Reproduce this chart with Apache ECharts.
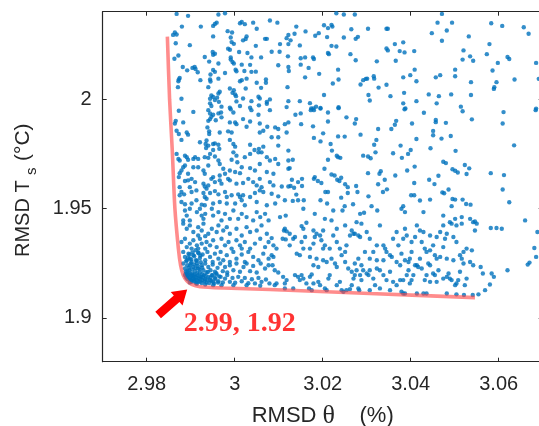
<!DOCTYPE html>
<html>
<head>
<meta charset="utf-8">
<script src="https://cdn.jsdelivr.net/npm/echarts@6/dist/echarts.min.js"></script>
<style>
  html, body { margin: 0; padding: 0; background: #ffffff; }
  #chart { width: 539px; height: 426px; }
</style>
</head>
<body>
<div id="chart"></div>
<script>
// Axis extents and tick values
const xRange = [2.97, 3.07];
const yRange = [1.88, 2.04];
const xTicks = [2.98, 3, 3.02, 3.04, 3.06];
const yTicks = [1.9, 1.95, 2];

// Pareto front through the trial cloud: [RMSD theta (%), RMSD Ts (degC)]
const paretoFront = [
  [2.9847, 2.0286], [2.9852, 2.0000], [2.9858, 1.9771], [2.9864, 1.9503],
  [2.9872, 1.9317], [2.9877, 1.9241], [2.9883, 1.9196], [2.9891, 1.9170],
  [2.9902, 1.9153], [2.9921, 1.9143], [2.9974, 1.9137], [3.0080, 1.9130],
  [3.0307, 1.9112], [3.0546, 1.9093]
];

// Chosen compromise solution and its pointer
const kneePoint = [2.99, 1.92];
const arrowTail = [2.9826, 1.9014];
const arrowHead = [2.9892, 1.9130];

// Trial results, RMSD Ts above ~1.995
const upperTrials = [
  [2.9868,2.0390],[2.9894,2.0381],[2.9963,2.0387],[2.9978,2.0393],[2.9955,2.0344],[2.9959,2.0350],
  [2.9951,2.0335],[3.0012,2.0347],[3.0016,2.0353],[3.0023,2.0343],[3.0042,2.0350],[3.0080,2.0360],
  [3.0097,2.0350],[2.9880,2.0332],[2.9923,2.0332],[2.9984,2.0311],[2.9994,2.0305],[3.0050,2.0322],
  [2.9864,2.0305],[2.9868,2.0296],[2.9860,2.0294],[2.9951,2.0287],[2.9991,2.0282],[3.0027,2.0287],
  [3.0025,2.0275],[3.0019,2.0269],[3.0069,2.0276],[3.0073,2.0276],[3.0122,2.0294],[3.0118,2.0279],
  [2.9993,2.0261],[2.9998,2.0253],[2.9898,2.0247],[2.9866,2.0256],[3.0048,2.0244],[3.0103,2.0252],
  [3.0122,2.0252],[2.9985,2.0231],[2.9989,2.0226],[2.9950,2.0216],[2.9951,2.0203],[2.9955,2.0208],
  [3.0010,2.0216],[3.0029,2.0211],[3.0084,2.0217],[3.0102,2.0217],[2.9872,2.0200],[2.9863,2.0185],
  [2.9932,2.0193],[2.9942,2.0172],[2.9991,2.0191],[2.9991,2.0181],[2.9995,2.0170],[2.9998,2.0163],
  [3.0038,2.0191],[3.0060,2.0191],[2.9963,2.0163],[3.0035,2.0157],[3.0016,2.0158],[3.0099,2.0155],
  [3.0122,2.0147],[2.9882,2.0147],[2.9892,2.0132],[2.9904,2.0143],[2.9909,2.0147],[2.9911,2.0138],
  [2.9916,2.0123],[2.9951,2.0134],[2.9955,2.0125],[2.9945,2.0113],[2.9978,2.0120],[3.0002,2.0135],
  [3.0004,2.0128],[3.0022,2.0129],[3.0038,2.0125],[3.0048,2.0126],[3.0123,2.0129],[2.9875,2.0097],
  [2.9873,2.0090],[2.9872,2.0082],[2.9922,2.0087],[2.9944,2.0090],[2.9945,2.0081],[2.9963,2.0094],
  [3.0012,2.0082],[3.0016,2.0087],[3.0027,2.0094],[3.0071,2.0090],[3.0050,2.0075],[3.0071,2.0075],
  [2.9871,2.0055],[2.9940,2.0055],[2.9989,2.0049],[2.9998,2.0041],[3.0025,2.0049],[3.0060,2.0052],
  [3.0120,2.0055],[2.9966,2.0034],[2.9963,2.0026],[2.9947,2.0017],[2.9951,2.0010],[2.9944,2.0002],
  [2.9955,1.9996],[2.9960,2.0007],[2.9964,1.9988],[2.9995,2.0029],[3.0001,2.0022],[3.0003,2.0014],
  [3.0019,2.0003],[3.0004,1.9990],[3.0054,2.0011],[3.0057,2.0003],[3.0038,1.9991],[3.0073,1.9988],
  [3.0080,1.9999],[2.9879,2.0002],[2.9944,1.9981],[2.9947,1.9969],[2.9970,1.9966],[2.9989,1.9961],
  [3.0012,1.9969],[3.0035,1.9961],[3.0055,1.9972],[3.0073,1.9979],[3.0118,1.9964],[3.0122,1.9991],
  [3.0231,2.0393],[3.0248,2.0387],[3.0273,2.0387],[3.0278,2.0403],[3.0140,2.0332],[3.0136,2.0299],
  [3.0127,2.0269],[3.0161,2.0310],[3.0183,2.0290],[3.0191,2.0302],[3.0203,2.0338],[3.0212,2.0325],
  [3.0220,2.0340],[3.0222,2.0332],[3.0210,2.0284],[3.0248,2.0282],[3.0265,2.0320],[3.0275,2.0276],
  [3.0280,2.0285],[3.0303,2.0322],[3.0345,2.0322],[3.0348,2.0322],[3.0383,2.0260],[3.0364,2.0252],
  [3.0375,2.0220],[3.0386,2.0214],[3.0408,2.0220],[3.0345,2.0232],[3.0348,2.0223],[3.0148,2.0246],
  [3.0220,2.0244],[3.0231,2.0241],[3.0212,2.0211],[3.0214,2.0206],[3.0263,2.0206],[3.0121,2.0196],
  [3.0150,2.0187],[3.0160,2.0191],[3.0178,2.0191],[3.0180,2.0184],[3.0275,2.0178],[3.0323,2.0173],
  [3.0366,2.0176],[3.0150,2.0158],[3.0168,2.0143],[3.0235,2.0135],[3.0192,2.0116],[3.0160,2.0100],
  [3.0409,2.0135],[3.0399,2.0110],[3.0383,2.0100],[3.0413,2.0082],[3.0236,2.0090],[3.0223,2.0072],
  [3.0292,2.0087],[3.0298,2.0093],[3.0301,2.0094],[3.0286,2.0067],[3.0316,2.0105],[3.0317,2.0094],
  [3.0327,2.0053],[3.0345,2.0066],[3.0304,2.0019],[3.0307,1.9994],[3.0354,2.0014],[3.0385,2.0029],
  [3.0203,2.0019],[3.0148,1.9991],[3.0171,1.9982],[3.0185,1.9966],[3.0174,1.9958],[3.0179,1.9958],
  [3.0195,1.9960],[3.0236,1.9963],[3.0383,1.9981],[3.0388,1.9958],[3.0413,1.9991],
  [3.0471,2.0390],[3.0461,2.0350],[3.0494,2.0350],[3.0448,2.0302],[3.0482,2.0314],[3.0471,2.0267],
  [3.0532,2.0287],[3.0583,2.0347],[3.0608,2.0335],[3.0657,2.0329],[3.0668,2.0299],[3.0579,2.0252],
  [3.0520,2.0223],[3.0535,2.0196],[3.0542,2.0176],[3.0518,2.0181],[3.0573,2.0206],[3.0620,2.0193],
  [3.0624,2.0184],[3.0598,2.0166],[3.0685,2.0166],[3.0501,2.0135],[3.0586,2.0131],[3.0467,2.0110],
  [3.0457,2.0100],[3.0501,2.0105],[3.0537,2.0078],[3.0595,2.0078],[3.0636,2.0090],[3.0691,2.0093],
  [3.0589,2.0047],[3.0590,2.0055],[3.0441,2.0022],[3.0464,2.0014],[3.0492,2.0022],[3.0537,2.0019],
  [3.0459,1.9981],[3.0514,1.9966],[3.0685,1.9957]
];

// Trial results, RMSD Ts between ~1.951 and ~1.995
const middleTrials = [
  [2.9873,1.9947],[2.9906,1.9942],[2.9940,1.9950],[2.9944,1.9935],[2.9951,1.9929],[2.9963,1.9935],
  [2.9969,1.9939],[2.9991,1.9954],[2.9997,1.9939],[3.0038,1.9950],[3.0054,1.9929],[3.0080,1.9950],
  [2.9866,1.9901],[2.9864,1.9889],[2.9883,1.9894],[2.9940,1.9901],[2.9944,1.9909],[2.9947,1.9920],
  [2.9957,1.9904],[2.9970,1.9917],[2.9989,1.9894],[3.0001,1.9894],[3.0004,1.9886],[3.0019,1.9909],
  [3.0035,1.9898],[3.0057,1.9889],[3.0092,1.9871],[3.0099,1.9864],[3.0114,1.9886],[3.0118,1.9848],
  [3.0122,1.9894],[2.9868,1.9856],[2.9873,1.9841],[2.9891,1.9848],[2.9894,1.9838],[2.9938,1.9871],
  [2.9942,1.9853],[2.9942,1.9841],[2.9966,1.9848],[2.9985,1.9853],[2.9993,1.9848],[3.0027,1.9874],
  [3.0057,1.9848],[3.0065,1.9856],[3.0074,1.9874],[3.0084,1.9826],[3.0099,1.9826],[2.9879,1.9814],
  [2.9921,1.9803],[2.9936,1.9811],[2.9934,1.9795],[2.9935,1.9777],[2.9940,1.9788],[2.9951,1.9795],
  [2.9955,1.9798],[2.9963,1.9792],[2.9965,1.9773],[2.9951,1.9768],[2.9989,1.9814],[2.9997,1.9795],
  [3.0001,1.9783],[3.0035,1.9792],[3.0045,1.9768],[3.0055,1.9773],[3.0065,1.9783],[3.0099,1.9788],
  [3.0122,1.9765],[2.9868,1.9750],[2.9872,1.9727],[2.9875,1.9720],[2.9887,1.9742],[2.9891,1.9735],
  [2.9894,1.9723],[2.9906,1.9727],[2.9910,1.9735],[2.9917,1.9727],[2.9932,1.9735],[2.9940,1.9732],
  [2.9944,1.9750],[2.9955,1.9738],[2.9963,1.9720],[2.9966,1.9704],[2.9997,1.9757],[3.0004,1.9742],
  [3.0006,1.9712],[2.9993,1.9723],[3.0023,1.9735],[3.0035,1.9750],[3.0054,1.9757],[3.0061,1.9757],
  [3.0073,1.9735],[3.0080,1.9720],[3.0092,1.9727],[3.0099,1.9704],[3.0122,1.9720],[2.9887,1.9697],
  [2.9883,1.9689],[2.9879,1.9674],[2.9875,1.9662],[2.9894,1.9659],[2.9906,1.9689],[2.9917,1.9689],
  [2.9929,1.9674],[2.9932,1.9659],[2.9940,1.9697],[2.9951,1.9644],[2.9966,1.9651],[2.9978,1.9659],
  [2.9974,1.9682],[2.9989,1.9674],[3.0001,1.9667],[3.0012,1.9662],[3.0016,1.9689],[3.0035,1.9685],
  [3.0046,1.9674],[3.0057,1.9704],[3.0073,1.9667],[3.0088,1.9659],[3.0122,1.9682],[2.9873,1.9644],
  [2.9887,1.9626],[2.9894,1.9629],[2.9902,1.9636],[2.9910,1.9621],[2.9929,1.9614],[2.9932,1.9601],
  [2.9936,1.9591],[2.9940,1.9606],[2.9947,1.9636],[2.9955,1.9621],[2.9966,1.9629],[2.9970,1.9614],
  [2.9985,1.9636],[2.9989,1.9629],[3.0004,1.9614],[3.0019,1.9617],[3.0031,1.9636],[3.0042,1.9621],
  [3.0050,1.9606],[3.0057,1.9636],[3.0061,1.9598],[3.0080,1.9621],[3.0088,1.9606],[3.0107,1.9601],
  [3.0122,1.9601],[2.9875,1.9598],[2.9879,1.9576],[2.9875,1.9561],[2.9885,1.9565],[2.9898,1.9598],
  [2.9902,1.9576],[2.9913,1.9583],[2.9929,1.9571],[2.9932,1.9553],[2.9936,1.9545],[2.9944,1.9571],
  [2.9955,1.9580],[2.9963,1.9565],[2.9978,1.9576],[2.9982,1.9553],[2.9993,1.9561],[3.0008,1.9565],
  [3.0012,1.9553],[3.0019,1.9561],[3.0035,1.9553],[3.0046,1.9571],[3.0057,1.9583],[3.0065,1.9576],
  [3.0084,1.9568],[3.0099,1.9556],[2.9879,1.9530],[2.9887,1.9520],[2.9902,1.9523],[2.9913,1.9538],
  [2.9925,1.9518],[2.9932,1.9515],[2.9951,1.9523],[2.9966,1.9530],[2.9982,1.9523],[3.0001,1.9523],
  [3.0016,1.9538],[3.0023,1.9515],[3.0050,1.9530],[3.0073,1.9515],[3.0092,1.9523],[3.0114,1.9538],
  [3.0138,1.9929],[3.0150,1.9935],[3.0173,1.9950],[3.0180,1.9950],[3.0195,1.9957],[3.0212,1.9939],
  [3.0236,1.9959],[3.0386,1.9954],[3.0151,1.9886],[3.0178,1.9876],[3.0212,1.9898],[3.0254,1.9917],
  [3.0273,1.9889],[3.0276,1.9909],[3.0326,1.9864],[3.0356,1.9864],[3.0364,1.9883],[3.0367,1.9901],
  [3.0403,1.9889],[3.0180,1.9823],[3.0195,1.9807],[3.0201,1.9844],[3.0235,1.9830],[3.0250,1.9829],
  [3.0286,1.9838],[3.0218,1.9795],[3.0221,1.9765],[3.0232,1.9742],[3.0235,1.9735],[3.0240,1.9732],
  [3.0212,1.9723],[3.0292,1.9742],[3.0303,1.9738],[3.0309,1.9730],[3.0317,1.9792],[3.0322,1.9814],
  [3.0320,1.9757],[3.0360,1.9753],[3.0377,1.9788],[3.0380,1.9732],[3.0394,1.9750],[3.0400,1.9768],
  [3.0413,1.9818],[3.0132,1.9723],[3.0125,1.9685],[3.0204,1.9682],[3.0220,1.9656],[3.0227,1.9651],
  [3.0233,1.9632],[3.0242,1.9641],[3.0238,1.9626],[3.0182,1.9644],[3.0180,1.9636],[3.0189,1.9626],
  [3.0197,1.9617],[3.0130,1.9632],[3.0153,1.9636],[3.0144,1.9621],[3.0153,1.9603],[3.0127,1.9603],
  [3.0135,1.9595],[3.0251,1.9611],[3.0257,1.9598],[3.0276,1.9603],[3.0303,1.9662],[3.0332,1.9671],
  [3.0329,1.9659],[3.0341,1.9632],[3.0326,1.9611],[3.0346,1.9588],[3.0337,1.9576],[3.0365,1.9651],
  [3.0392,1.9674],[3.0409,1.9692],[3.0408,1.9617],[3.0140,1.9564],[3.0144,1.9538],[3.0157,1.9538],
  [3.0132,1.9535],[3.0195,1.9538],[3.0206,1.9576],[3.0212,1.9576],[3.0210,1.9523],[3.0242,1.9550],
  [3.0257,1.9571],[3.0279,1.9576],[3.0304,1.9556],[3.0269,1.9520],[3.0311,1.9511],[3.0250,1.9511],
  [3.0401,1.9561],[3.0408,1.9561],[3.0383,1.9511],
  [3.0430,1.9938],[3.0457,1.9895],[3.0457,1.9905],[3.0451,1.9855],[3.0451,1.9835],[3.0470,1.9820],
  [3.0480,1.9892],[3.0491,1.9832],[3.0518,1.9945],[3.0539,1.9908],[3.0611,1.9941],[3.0609,1.9889],
  [3.0635,1.9789],[3.0684,1.9950],[3.0445,1.9776],
  [3.0463,1.9650],[3.0442,1.9632],[3.0454,1.9612],[3.0480,1.9708],[3.0474,1.9714],[3.0495,1.9680],
  [3.0501,1.9673],[3.0507,1.9665],[3.0523,1.9699],[3.0533,1.9684],[3.0527,1.9658],[3.0582,1.9662],
  [3.0612,1.9653],[3.0609,1.9587],[3.0624,1.9529],[3.0486,1.9587],[3.0472,1.9574],[3.0476,1.9570],
  [3.0495,1.9544],[3.0501,1.9541],[3.0518,1.9541],[3.0526,1.9521],[3.0536,1.9518],[3.0493,1.9511],
  [3.0444,1.9541],[3.0421,1.9537],[3.0502,1.9764]
];

// Trial results, RMSD Ts below ~1.951
const lowerTrials = [
  [2.9887,1.9491],[2.9891,1.9468],[2.9898,1.9446],[2.9914,1.9484],[2.9921,1.9499],[2.9925,1.9468],
  [2.9933,1.9476],[2.9929,1.9453],[2.9948,1.9499],[2.9951,1.9468],[2.9963,1.9484],[2.9970,1.9446],
  [2.9978,1.9476],[2.9989,1.9453],[2.9997,1.9491],[3.0008,1.9453],[3.0016,1.9476],[3.0027,1.9461],
  [3.0042,1.9446],[3.0050,1.9484],[3.0058,1.9461],[3.0069,1.9476],[3.0077,1.9446],[2.9883,1.9446],
  [2.9898,1.9499],[2.9883,1.9431],[2.9891,1.9408],[2.9898,1.9423],[2.9906,1.9393],[2.9917,1.9415],
  [2.9925,1.9400],[2.9929,1.9431],[2.9940,1.9385],[2.9948,1.9408],[2.9959,1.9393],[2.9963,1.9423],
  [2.9974,1.9400],[2.9982,1.9415],[2.9989,1.9385],[3.0004,1.9408],[3.0016,1.9377],[3.0027,1.9415],
  [3.0035,1.9393],[3.0050,1.9400],[3.0061,1.9423],[3.0073,1.9385],[2.9917,1.9377],[2.9933,1.9374],
  [2.9879,1.9347],[2.9887,1.9362],[2.9891,1.9324],[2.9898,1.9340],[2.9906,1.9355],[2.9914,1.9332],
  [2.9921,1.9362],[2.9925,1.9340],[2.9933,1.9317],[2.9936,1.9347],[2.9944,1.9332],[2.9951,1.9355],
  [2.9959,1.9324],[2.9970,1.9362],[2.9978,1.9332],[2.9986,1.9347],[2.9993,1.9317],[3.0004,1.9355],
  [3.0012,1.9332],[3.0023,1.9347],[3.0035,1.9317],[3.0046,1.9340],[3.0058,1.9362],[3.0069,1.9324],
  [3.0077,1.9347],[2.9902,1.9317],[2.9917,1.9317],[2.9883,1.9302],[2.9887,1.9279],[2.9891,1.9264],
  [2.9895,1.9294],[2.9898,1.9271],[2.9902,1.9256],[2.9906,1.9287],[2.9912,1.9264],[2.9917,1.9299],
  [2.9921,1.9274],[2.9927,1.9290],[2.9933,1.9264],[2.9938,1.9302],[2.9944,1.9279],[2.9950,1.9256],
  [2.9955,1.9294],[2.9963,1.9271],[2.9968,1.9302],[2.9974,1.9264],[2.9982,1.9287],[2.9989,1.9256],
  [2.9997,1.9302],[3.0004,1.9271],[3.0016,1.9290],[3.0023,1.9256],[3.0031,1.9302],[3.0042,1.9279],
  [3.0054,1.9264],[3.0065,1.9294],[3.0077,1.9271],[3.0016,1.9317],[2.9883,1.9249],[2.9887,1.9226],
  [2.9889,1.9211],[2.9892,1.9241],[2.9897,1.9218],[2.9900,1.9249],[2.9903,1.9203],[2.9906,1.9233],
  [2.9910,1.9214],[2.9914,1.9249],[2.9917,1.9226],[2.9921,1.9208],[2.9925,1.9241],[2.9929,1.9218],
  [2.9933,1.9249],[2.9936,1.9208],[2.9940,1.9233],[2.9945,1.9218],[2.9950,1.9244],[2.9955,1.9211],
  [2.9961,1.9229],[2.9967,1.9249],[2.9973,1.9214],[2.9978,1.9233],[2.9983,1.9208],[2.9989,1.9241],
  [2.9997,1.9218],[3.0004,1.9249],[3.0012,1.9211],[3.0020,1.9233],[3.0027,1.9249],[3.0035,1.9214],
  [3.0042,1.9238],[3.0050,1.9208],[3.0059,1.9249],[3.0069,1.9226],[3.0077,1.9241],[2.9887,1.9196],
  [2.9891,1.9188],[2.9893,1.9177],[2.9895,1.9199],[2.9898,1.9183],[2.9901,1.9171],[2.9903,1.9193],
  [2.9906,1.9177],[2.9908,1.9167],[2.9911,1.9188],[2.9914,1.9173],[2.9916,1.9196],[2.9919,1.9180],
  [2.9921,1.9165],[2.9924,1.9188],[2.9927,1.9173],[2.9930,1.9196],[2.9933,1.9177],[2.9936,1.9162],
  [2.9940,1.9188],[2.9944,1.9173],[2.9948,1.9196],[2.9951,1.9165],[2.9955,1.9183],[2.9959,1.9199],
  [2.9963,1.9168],[2.9968,1.9188],[2.9973,1.9162],[2.9978,1.9180],[2.9983,1.9196],[2.9989,1.9165],
  [2.9995,1.9183],[3.0001,1.9161],[3.0008,1.9188],[3.0016,1.9168],[3.0023,1.9183],[3.0031,1.9159],
  [3.0039,1.9177],[3.0046,1.9158],[3.0054,1.9183],[3.0061,1.9165],[3.0071,1.9176],[3.0079,1.9158],
  [2.9889,1.9202],[2.9898,1.9203],[2.9908,1.9199],[2.9898,1.9162],[2.9914,1.9156],[2.9933,1.9153],
  [2.9951,1.9150],[2.9970,1.9150],[2.9997,1.9150],[3.0027,1.9150],[3.0058,1.9147],
  [3.0084,1.9365],[3.0088,1.9332],[3.0095,1.9317],[3.0084,1.9287],[3.0088,1.9279],[3.0086,1.9241],
  [3.0091,1.9218],[3.0099,1.9208],[3.0095,1.9158],[3.0091,1.9150],[3.0110,1.9188],[3.0118,1.9173],
  [3.0114,1.9158],[3.0114,1.9135],[3.0133,1.9135],[3.0137,1.9196],[3.0144,1.9188],[3.0152,1.9196],
  [3.0148,1.9173],[3.0156,1.9180],[3.0163,1.9158],[3.0171,1.9188],[3.0175,1.9199],[3.0169,1.9135],
  [3.0175,1.9127],[3.0179,1.9158],[3.0190,1.9165],[3.0194,1.9150],[3.0205,1.9135],[3.0209,1.9127],
  [3.0213,1.9180],[3.0216,1.9196],[3.0232,1.9150],[3.0239,1.9165],[3.0243,1.9127],[3.0247,1.9120],
  [3.0254,1.9127],[3.0266,1.9150],[3.0270,1.9180],[3.0273,1.9196],[3.0277,1.9218],[3.0281,1.9135],
  [3.0285,1.9196],[3.0288,1.9173],[3.0292,1.9218],[3.0300,1.9203],[3.0304,1.9196],[3.0307,1.9218],
  [3.0315,1.9180],[3.0319,1.9150],[3.0323,1.9226],[3.0330,1.9218],[3.0338,1.9196],[3.0345,1.9173],
  [3.0353,1.9211],[3.0360,1.9165],[3.0368,1.9150],[3.0376,1.9173],[3.0379,1.9120],[3.0383,1.9173],
  [3.0387,1.9112],[3.0391,1.9196],[3.0395,1.9218],[3.0398,1.9158],[3.0402,1.9173],[3.0406,1.9196],
  [3.0414,1.9241],[3.0417,1.9233],[3.0425,1.9226],[3.0429,1.9112],[3.0432,1.9173],[3.0436,1.9196],
  [3.0440,1.9249],[3.0444,1.9165],[3.0451,1.9203],[3.0455,1.9196],[3.0459,1.9165],[3.0463,1.9218],
  [3.0474,1.9180],[3.0482,1.9188],[3.0486,1.9203],[3.0489,1.9180],[3.0493,1.9173],[3.0501,1.9150],
  [3.0504,1.9158],[3.0508,1.9173],[3.0512,1.9211],[3.0523,1.9150],[3.0527,1.9180],[3.0542,1.9241],
  [3.0559,1.9233],[3.0564,1.9203],[3.0584,1.9203],[3.0589,1.9188],[3.0580,1.9153],[3.0569,1.9127],
  [3.0554,1.9108],[3.0541,1.9105],[3.0521,1.9105],[3.0504,1.9108],[3.0482,1.9112],[3.0436,1.9112],
  [3.0414,1.9112],[3.0383,1.9112],[3.0353,1.9127],[3.0330,1.9135],[3.0307,1.9127],[3.0283,1.9127],
  [3.0262,1.9132],
  [3.0125,1.9332],[3.0133,1.9362],[3.0152,1.9347],[3.0156,1.9317],[3.0171,1.9317],[3.0179,1.9340],
  [3.0182,1.9370],[3.0186,1.9385],[3.0194,1.9377],[3.0197,1.9355],[3.0201,1.9317],[3.0205,1.9332],
  [3.0216,1.9317],[3.0220,1.9271],[3.0224,1.9377],[3.0232,1.9347],[3.0239,1.9317],[3.0243,1.9287],
  [3.0251,1.9302],[3.0254,1.9332],[3.0262,1.9377],[3.0270,1.9385],[3.0273,1.9385],[3.0281,1.9377],
  [3.0285,1.9370],[3.0300,1.9393],[3.0307,1.9362],[3.0315,1.9302],[3.0323,1.9332],[3.0330,1.9423],
  [3.0338,1.9332],[3.0342,1.9317],[3.0345,1.9302],[3.0353,1.9287],[3.0360,1.9362],[3.0368,1.9393],
  [3.0372,1.9332],[3.0383,1.9362],[3.0387,1.9408],[3.0395,1.9256],[3.0402,1.9302],[3.0414,1.9423],
  [3.0421,1.9400],[3.0429,1.9393],[3.0432,1.9317],[3.0436,1.9302],[3.0444,1.9309],[3.0451,1.9332],
  [3.0455,1.9287],[3.0459,1.9271],[3.0467,1.9393],[3.0474,1.9324],[3.0478,1.9362],[3.0482,1.9385],
  [3.0493,1.9431],[3.0497,1.9370],[3.0504,1.9347],[3.0512,1.9287],[3.0516,1.9271],[3.0520,1.9302],
  [3.0535,1.9256],[3.0539,1.9309],[3.0542,1.9438],[3.0546,1.9400],[3.0232,1.9408],[3.0251,1.9423],
  [3.0266,1.9400],[3.0277,1.9438],[3.0288,1.9431],[3.0156,1.9408],[3.0152,1.9420],[3.0163,1.9435],
  [3.0160,1.9370],[3.0179,1.9400],[3.0205,1.9453],[3.0201,1.9400],[3.0220,1.9446],[3.0125,1.9385],
  [3.0137,1.9370],[3.0141,1.9294],[3.0148,1.9287],[3.0171,1.9279],[3.0179,1.9241],[3.0186,1.9271],
  [3.0190,1.9233],[3.0201,1.9264],[3.0209,1.9256],[3.0228,1.9249],[3.0232,1.9233],[3.0251,1.9256],
  [3.0258,1.9226],[3.0266,1.9211],[3.0273,1.9249],[3.0281,1.9271],[3.0288,1.9241],[3.0296,1.9302],
  [3.0307,1.9271],[3.0323,1.9264],[3.0338,1.9264],[3.0357,1.9279],[3.0368,1.9256],[3.0376,1.9241],
  [3.0379,1.9294],[3.0387,1.9264],[3.0398,1.9271],[3.0410,1.9241],[3.0421,1.9271],[3.0444,1.9241],
  [3.0467,1.9279],[3.0482,1.9271],[3.0497,1.9264],[3.0520,1.9249],[3.0527,1.9317],[3.0402,1.9347],
  [3.0391,1.9377],[3.0410,1.9370],[3.0425,1.9347],[3.0444,1.9377],[3.0459,1.9370],[3.0474,1.9423],
  [3.0489,1.9438],[3.0504,1.9423],[3.0516,1.9431],[3.0535,1.9453],[3.0550,1.9431],
  [3.0156,1.9499],[3.0182,1.9476],[3.0224,1.9491],[3.0245,1.9491],[3.0285,1.9476],[3.0294,1.9481],
  [3.0324,1.9491],[3.0379,1.9499],[3.0387,1.9484],[3.0429,1.9484],[3.0474,1.9468],[3.0501,1.9453],
  [3.0516,1.9461],[3.0546,1.9441],[3.0103,1.9461],[3.0116,1.9468],[3.0114,1.9408],[3.0112,1.9400],
  [3.0118,1.9396],[3.0109,1.9362],[3.0116,1.9359],
  [3.0582,1.9411],[3.0595,1.9411],[3.0607,1.9408],[3.0660,1.9446],[3.0620,1.9218],[3.0681,1.9320],
  [3.0685,1.9279],[3.0670,1.9253],[3.0666,1.9244],[3.0688,1.9393]
];

// Dense cluster of trials just above the knee of the front
const kneeCluster = [
  [2.9890,1.9185],[2.9893,1.9195],[2.9897,1.9175],[2.9900,1.9188],[2.9902,1.9165],[2.9905,1.9182],
  [2.9907,1.9195],[2.9909,1.9175],[2.9912,1.9160],[2.9913,1.9185],[2.9915,1.9205],[2.9917,1.9168],
  [2.9920,1.9190],[2.9922,1.9178],[2.9925,1.9160],[2.9926,1.9200],[2.9928,1.9185],[2.9931,1.9167],
  [2.9934,1.9192],[2.9937,1.9175],[2.9939,1.9210],[2.9942,1.9160],[2.9945,1.9185],[2.9947,1.9170],
  [2.9950,1.9195],[2.9953,1.9158],[2.9956,1.9178],[2.9958,1.9205],[2.9962,1.9162],[2.9965,1.9190],
  [2.9893,1.9215],[2.9896,1.9230],[2.9899,1.9240],[2.9903,1.9222],[2.9908,1.9245],[2.9911,1.9228],
  [2.9916,1.9238],[2.9920,1.9222],[2.9923,1.9255],[2.9926,1.9230],[2.9890,1.9260],[2.9894,1.9275],
  [2.9897,1.9290],[2.9901,1.9268],[2.9904,1.9300],[2.9908,1.9282],[2.9911,1.9310],[2.9914,1.9262],
  [2.9918,1.9296],[2.9922,1.9285]
];

const trials = upperTrials.concat(middleTrials, lowerTrials, kneeCluster);

const axisColor = '#262626';
const labelFont = 'Liberation Sans';

function frameAxis(position, isX, showLabels) {
  const range = isX ? xRange : yRange;
  const ticks = isX ? xTicks : yTicks;
  return {
    type: 'value',
    position: position,
    min: range[0],
    max: range[1],
    axisLine: { show: true, onZero: false, lineStyle: { color: axisColor, width: 1.2 } },
    axisTick: { show: true, inside: true, length: 4, customValues: ticks, lineStyle: { color: axisColor, width: 1 } },
    axisLabel: {
      show: showLabels,
      customValues: ticks,
      margin: isX ? 13 : 11,
      color: axisColor,
      fontFamily: labelFont,
      fontSize: 20,
      formatter: v => String(+v.toFixed(2))
    },
    splitLine: { show: false }
  };
}

const chart = echarts.init(document.getElementById('chart'), null, { renderer: 'canvas' });

const xMain = frameAxis('bottom', true, true);
xMain.name = 'RMSD {th|θ}    (%)';
xMain.nameLocation = 'middle';
xMain.nameGap = 41;
xMain.nameTextStyle = {
  color: axisColor, fontFamily: labelFont, fontSize: 22,
  rich: { th: { color: axisColor, fontFamily: 'Liberation Serif', fontSize: 26 } }
};

chart.setOption({
  animation: false,
  backgroundColor: '#ffffff',
  grid: { left: 102.7, top: 11.7, width: 440, height: 350, containLabel: false, outerBoundsMode: 'none' },
  xAxis: [xMain, frameAxis('top', true, false)],
  yAxis: [frameAxis('left', false, true), frameAxis('right', false, false)],
  graphic: [{
    type: 'group',
    x: 23.5,
    y: 186,
    rotation: Math.PI / 2,
    children: [
      { type: 'text', x: -71, y: 0, style: { text: 'RMSD T', fill: axisColor, font: '20px "Liberation Sans"', align: 'left', verticalAlign: 'middle', textAlign: 'left', textVerticalAlign: 'middle' } },
      { type: 'text', x: 11, y: 8, style: { text: 's', fill: axisColor, font: '15px "Liberation Sans"', align: 'left', verticalAlign: 'middle', textAlign: 'left', textVerticalAlign: 'middle' } },
      { type: 'text', x: 25, y: 0, style: { text: '(°C)', fill: axisColor, font: '21px "Liberation Sans"', align: 'left', verticalAlign: 'middle', textAlign: 'left', textVerticalAlign: 'middle' } }
    ]
  }],
  series: [
    {
      type: 'scatter',
      data: trials,
      symbol: 'circle',
      symbolSize: 4.4,
      itemStyle: { color: '#0072BD' },
      clip: true,
      z: 2
    },
    {
      type: 'line',
      data: paretoFront,
      smooth: 0.25,
      symbol: 'none',
      lineStyle: { color: 'rgba(255, 70, 70, 0.62)', width: 3.6 },
      z: 3
    },
    {
      type: 'custom',
      data: [[arrowTail[0], arrowTail[1], arrowHead[0], arrowHead[1]]],
      encode: { x: [0, 2], y: [1, 3] },
      clip: false,
      z: 4,
      renderItem: (params, api) => {
        const p0 = api.coord([api.value(0), api.value(1)]);
        const p1 = api.coord([api.value(2), api.value(3)]);
        const dx = p1[0] - p0[0], dy = p1[1] - p0[1];
        const len = Math.hypot(dx, dy);
        const ux = dx / len, uy = dy / len, nx = -uy, ny = ux;
        const headLen = 14, headHalf = 9, shaftHalf = 4.3;
        const bx = p1[0] - ux * headLen, by = p1[1] - uy * headLen;
        return {
          type: 'polygon',
          shape: { points: [
            [p0[0] + nx * shaftHalf, p0[1] + ny * shaftHalf],
            [bx + nx * shaftHalf, by + ny * shaftHalf],
            [bx + nx * headHalf, by + ny * headHalf],
            [p1[0], p1[1]],
            [bx - nx * headHalf, by - ny * headHalf],
            [bx - nx * shaftHalf, by - ny * shaftHalf],
            [p0[0] - nx * shaftHalf, p0[1] - ny * shaftHalf]
          ] },
          style: { fill: '#ff0000' }
        };
      }
    },
    {
      type: 'scatter',
      data: [kneePoint],
      symbolSize: 0,
      clip: false,
      z: 5,
      label: {
        show: true,
        position: 'inside',
        offset: [49, 50],
        align: 'center',
        verticalAlign: 'middle',
        color: '#ff0000',
        fontFamily: 'Liberation Serif',
        fontWeight: 'bold',
        fontSize: 28,
        formatter: p => p.value[0].toFixed(2) + ', ' + p.value[1].toFixed(2)
      }
    }
  ]
});
</script>
</body>
</html>
